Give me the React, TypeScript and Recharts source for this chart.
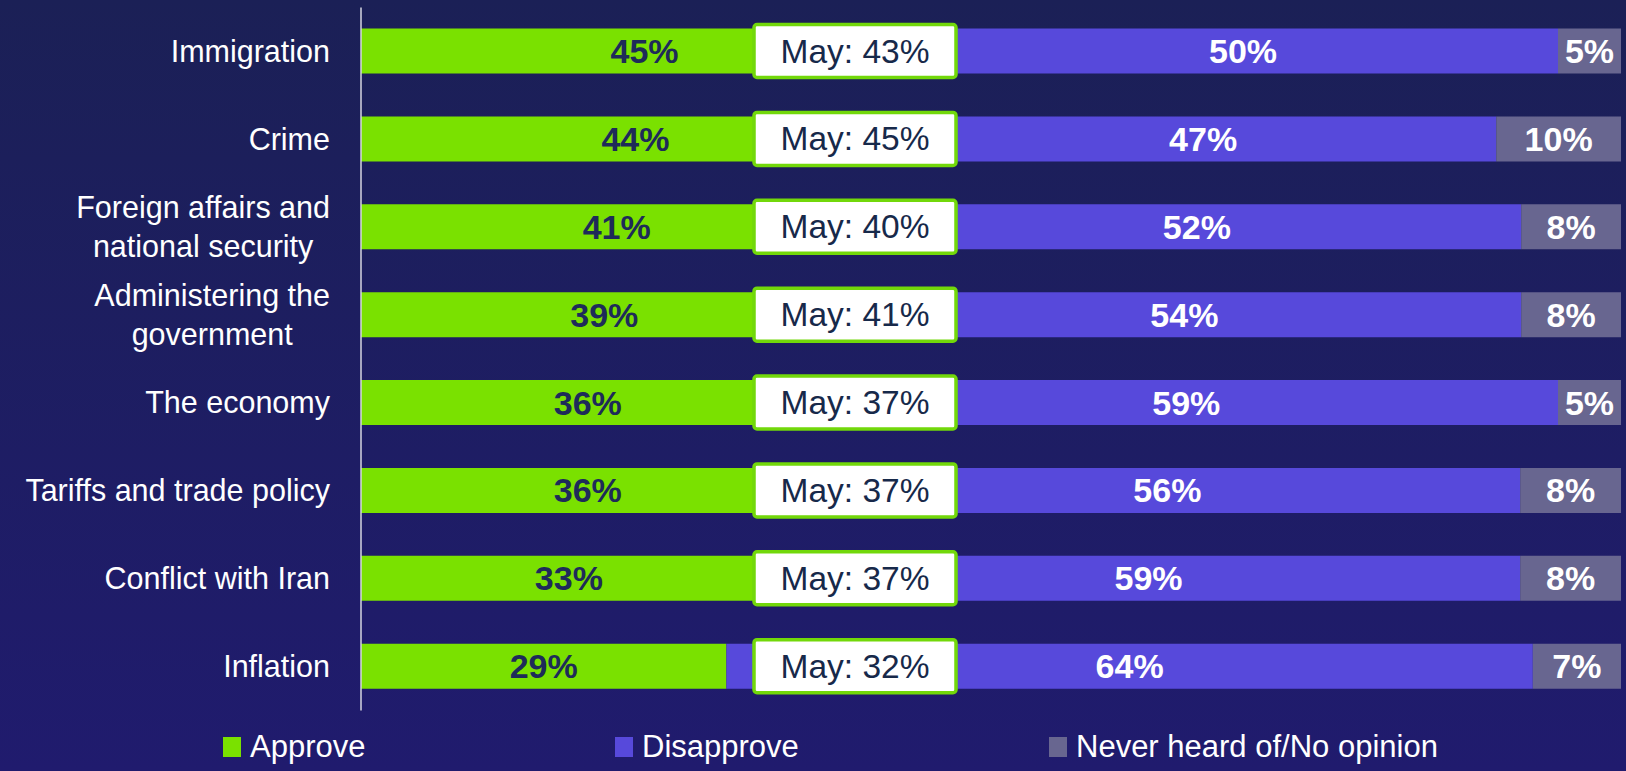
import React from "react";
import { BarChart, Bar, XAxis, YAxis, LabelList, Legend } from "recharts";

// categories, top to bottom
const categories = [
  "Immigration",
  "Crime",
  "Foreign affairs and\nnational security",
  "Administering the\ngovernment",
  "The economy",
  "Tariffs and trade policy",
  "Conflict with Iran",
  "Inflation",
];
const approve = [45, 44, 41, 39, 36, 36, 33, 29];
const disapprove = [50, 47, 52, 54, 59, 56, 59, 64];
const neverHeard = [5, 10, 8, 8, 5, 8, 8, 7];
const mayApprove = [43, 45, 40, 41, 37, 37, 37, 32];
const seriesNames = ["Approve", "Disapprove", "Never heard of/No opinion"];

const GREEN = "#7ae100";
const PURPLE = "#5749db";
const GRAY = "#686690";
const DARK = "#1e2b59";
const FONT = "'Liberation Sans', Arial, sans-serif";

const BOX_X = 754;
const BOX_W = 202;

const data = categories.map((name, i) => ({
  name,
  approve: approve[i],
  disapprove: disapprove[i],
  never: neverHeard[i],
  may: mayApprove[i],
}));

let measureCtx: CanvasRenderingContext2D | null = null;
function measure(text: string, font: string): number {
  if (!measureCtx) measureCtx = document.createElement("canvas").getContext("2d");
  if (!measureCtx) return text.length * 15;
  measureCtx.font = font;
  return measureCtx.measureText(text).width;
}

function CategoryTick({ x, y, payload }: any) {
  const lines = String(payload.value).split("\n");
  const size = 30.5;
  const lineGap = 39;
  if (lines.length === 1) {
    return (
      <text x={x} y={y + 10.5} textAnchor="end" fill="#ffffff" fontSize={size} fontFamily={FONT}>
        {lines[0]}
      </text>
    );
  }
  const w = Math.max(...lines.map((l) => measure(l, `${size}px 'Liberation Sans'`)));
  const cx = x - w / 2;
  return (
    <text textAnchor="middle" fill="#ffffff" fontSize={size} fontFamily={FONT}>
      {lines.map((l, k) => (
        <tspan key={k} x={cx} y={y + (k - (lines.length - 1) / 2) * lineGap + 10.5}>
          {l}
        </tspan>
      ))}
    </text>
  );
}

function segmentLabel(color: string) {
  return (props: any) => {
    const vb = props.viewBox ?? props;
    const { x, y, width, height } = vb;
    return (
      <text
        x={x + width / 2}
        y={y + height / 2 + 12}
        textAnchor="middle"
        fill={color}
        fontSize={34}
        fontWeight={700}
        fontFamily={FONT}
      >
        {props.value}%
      </text>
    );
  };
}

function MayBox(props: any) {
  const vb = props.viewBox ?? props;
  const { y, height } = vb;
  return (
    <g>
      <rect
        x={BOX_X}
        y={y - 4}
        width={BOX_W}
        height={height + 8}
        rx={3}
        fill="#ffffff"
        stroke="#72d80a"
        strokeWidth={3.5}
      />
      <text
        x={BOX_X + BOX_W / 2}
        y={y + height / 2 + 11.5}
        textAnchor="middle"
        fill="#17294a"
        fontSize={33.5}
        fontFamily={FONT}
      >
        May: {props.value}%
      </text>
    </g>
  );
}

const legendItems = [
  { name: seriesNames[0], color: GREEN, marker: 223, text: 250 },
  { name: seriesNames[1], color: PURPLE, marker: 615, text: 642 },
  { name: seriesNames[2], color: GRAY, marker: 1049, text: 1076 },
];

function ChartLegend() {
  return (
    <div style={{ position: "relative", width: 1626, height: 50 }}>
      {legendItems.map((it) => (
        <React.Fragment key={it.name}>
          <div
            style={{
              position: "absolute",
              left: it.marker,
              top: 15,
              width: 18,
              height: 20,
              background: it.color,
            }}
          />
          <div
            style={{
              position: "absolute",
              left: it.text,
              top: 0,
              height: 50,
              lineHeight: "50px",
              color: "#ffffff",
              fontSize: 31,
              fontFamily: FONT,
              whiteSpace: "nowrap",
            }}
          >
            {it.name}
          </div>
        </React.Fragment>
      ))}
    </div>
  );
}

export default function App() {
  return (
    <div
      style={{
        position: "fixed",
        left: 0,
        top: 0,
        width: 1626,
        height: 771,
        overflow: "hidden",
        background: "linear-gradient(180deg, #1b2056 0%, #201b6e 100%)",
      }}
    >
      <BarChart
        width={1626}
        height={771}
        data={data}
        layout="vertical"
        stackOffset="expand"
        margin={{ top: 7.5, right: 5, bottom: 60.5, left: 0 }}
        barSize={45}
      >
        <XAxis type="number" hide domain={[0, 1]} />
        <YAxis
          type="category"
          dataKey="name"
          width={361}
          tick={CategoryTick as any}
          tickLine={false}
          tickSize={0}
          tickMargin={31}
          axisLine={{ stroke: "#d6d6e0", strokeWidth: 1.5 }}
          interval={0}
        />
        <Legend
          verticalAlign="middle"
          layout="horizontal"
          content={ChartLegend as any}
          wrapperStyle={{ top: 722, left: 0, width: 1626, height: 50 }}
        />
        <Bar dataKey="approve" name={seriesNames[0]} stackId="a" fill={GREEN} isAnimationActive={false}>
          <LabelList dataKey="approve" content={segmentLabel(DARK)} />
        </Bar>
        <Bar dataKey="disapprove" name={seriesNames[1]} stackId="a" fill={PURPLE} isAnimationActive={false}>
          <LabelList dataKey="disapprove" content={segmentLabel("#ffffff")} />
        </Bar>
        <Bar dataKey="never" name={seriesNames[2]} stackId="a" fill={GRAY} isAnimationActive={false}>
          <LabelList dataKey="never" content={segmentLabel("#ffffff")} />
          <LabelList dataKey="may" content={MayBox} />
        </Bar>
      </BarChart>
    </div>
  );
}
